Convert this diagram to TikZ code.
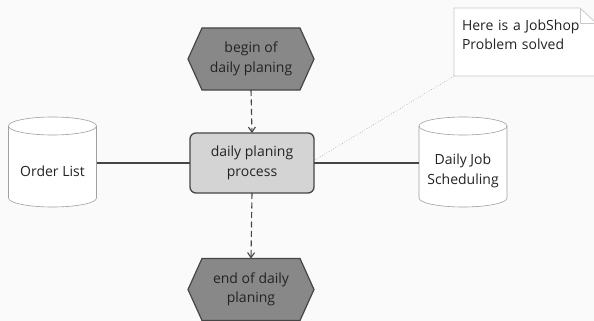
\documentclass[tikz,border=0pt]{standalone}
\usepackage{fontspec}
\setmainfont{Open Sans}
\usetikzlibrary{arrows.meta,backgrounds}
\definecolor{bgc}{RGB}{250,250,250}
\definecolor{hexfill}{RGB}{136,136,136}
\definecolor{hexdraw}{RGB}{70,70,70}
\definecolor{procfill}{RGB}{212,212,212}
\definecolor{cyldraw}{RGB}{160,160,160}
\definecolor{notedraw}{RGB}{200,200,200}
\definecolor{txt}{RGB}{35,35,35}
\tikzset{
  x=1pt,y=1pt,
  every node/.style={font=\fontsize{14}{19.5}\selectfont, text=txt, align=center, inner sep=0pt, outer sep=0pt},
  hexnode/.style={minimum width=126pt, minimum height=62pt},
  hexshape/.style={fill=hexfill, draw=hexdraw, line width=1.2pt, line join=miter},
  procnode/.style={draw=hexdraw, fill=procfill, line width=1.3pt, rounded corners=6pt, minimum width=124pt, minimum height=60pt},
  cylnode/.style={minimum width=88pt, minimum height=72pt},
  cylshape/.style={draw=cyldraw, line width=0.6pt, fill=white},
  flowline/.style={draw=hexdraw, line width=1.1pt, dashed, dash pattern=on 6pt off 3.5pt, -{Straight Barb[length=5pt,width=7pt]}},
  dataline/.style={draw=hexdraw, line width=1.1pt},
  noteline/.style={draw=cyldraw, line width=0.6pt, dotted},
}
\begin{document}
\begin{tikzpicture}
\useasboundingbox (0,0) rectangle (594,-321);
\begin{scope}[on background layer]
\fill[bgc] (0,0) rectangle (594,-321);
\end{scope}

% hexagon events
\node[hexnode] (begin) at (251,-59) {begin of\\daily planing};
\node[hexnode] (end) at (251,-289.5) {end of daily\\planing};
\begin{scope}[on background layer]
\foreach \n in {begin,end}{
  \path[hexshape] (\n.west) -- ([xshift=14pt]\n.north west) -- ([xshift=-14pt]\n.north east)
    -- (\n.east) -- ([xshift=-14pt]\n.south east) -- ([xshift=14pt]\n.south west) -- cycle;
}
\end{scope}

% process
\node[procnode] (proc) at (252,-163) {daily planing\\process};

% cylinders (node = visible front body)
\node[cylnode] (order) at (52.5,-171) {Order List};
\node[cylnode] (sched) at (463,-171) {Daily Job\\Scheduling};
\begin{scope}[on background layer]
\foreach \n in {order,sched}{
  \path[cylshape] ([yshift=9pt]\n.north west) -- ([yshift=9pt]\n.south west)
     arc[start angle=180, end angle=360, x radius=44pt, y radius=9pt]
     -- ([yshift=9pt]\n.north east)
     arc[start angle=0, end angle=180, x radius=44pt, y radius=9pt] -- cycle;
  \draw[cylshape, fill=none] ([yshift=9pt]\n.north east)
     arc[start angle=0, end angle=-180, x radius=44pt, y radius=9pt];
}
\end{scope}

% note
\coordinate (noteanchor) at (454,-76);
\node[anchor=north west, align=left, text width=125pt, font=\fontsize{14}{18.5}\selectfont] (note) at (462,-20) {Here is a JobShop\\Problem solved};
\begin{scope}[on background layer]
\path[draw=notedraw, fill=white, line width=0.7pt] (454,-8) -- (580,-8) -- (596,-23) -- (596,-76) -- (454,-76) -- cycle;
\draw[notedraw, line width=0.7pt] (580,-8) -- (580,-23) -- (596,-23);
\end{scope}

% connectors
\draw[flowline] (begin.south) -- (proc.north);
\draw[flowline] (proc.south) -- (end.north);
\draw[dataline] (order.east |- proc.west) -- (proc.west);
\draw[dataline] (proc.east) -- (sched.west |- proc.east);
\draw[noteline] (noteanchor) -- ([xshift=1pt,yshift=3pt]proc.east);
\end{tikzpicture}
\end{document}
